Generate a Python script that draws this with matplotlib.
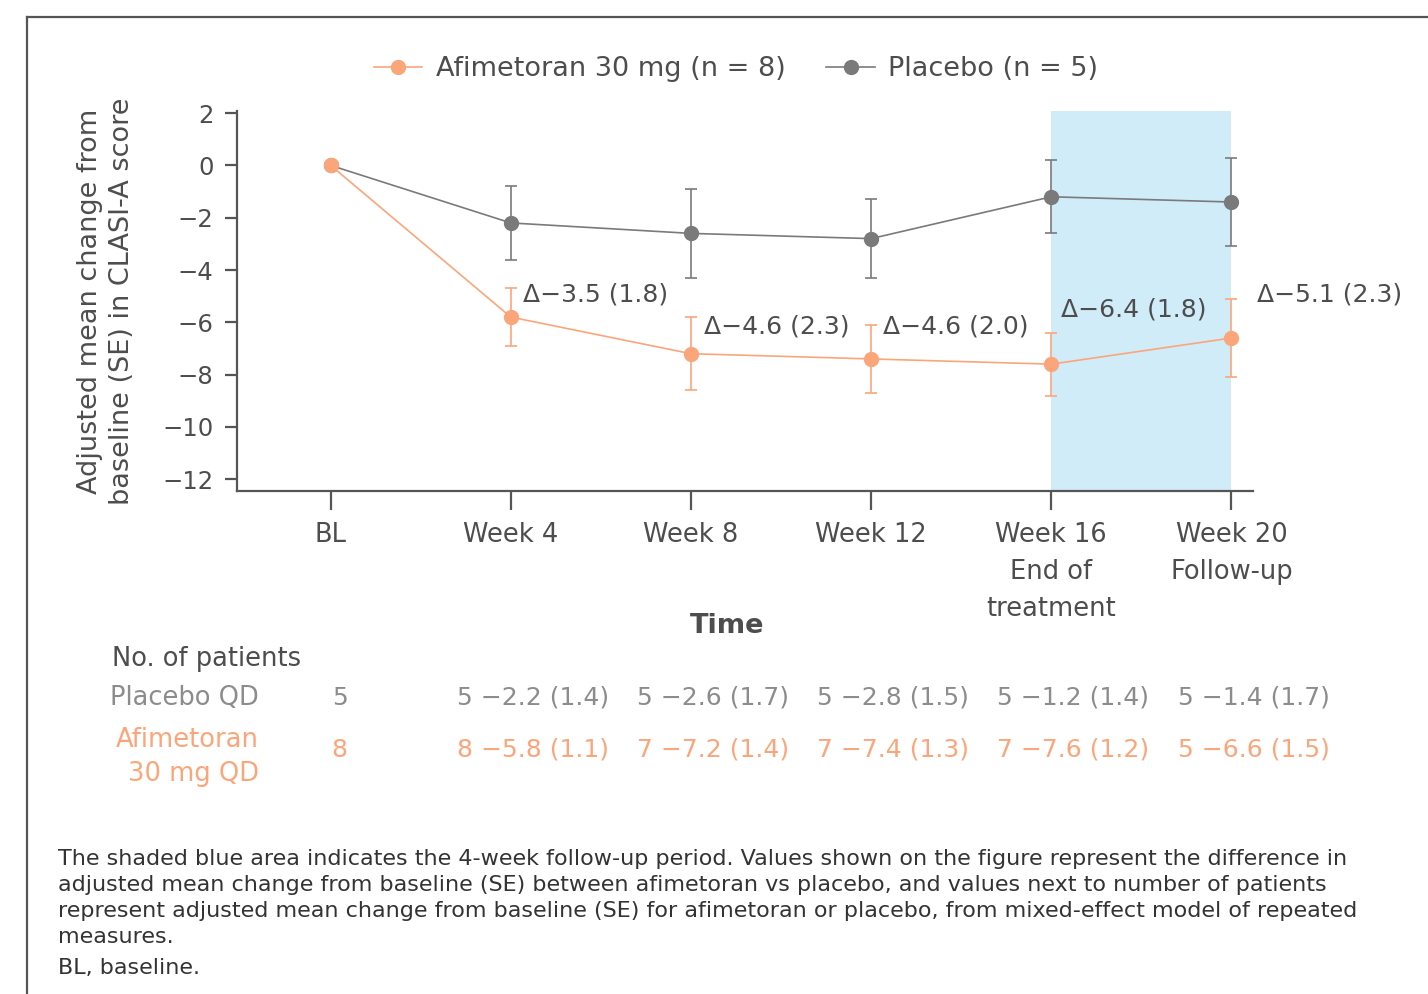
import matplotlib
matplotlib.use('Agg')
import matplotlib.pyplot as plt
import matplotlib.transforms as mtransforms
from matplotlib.lines import Line2D

# data
timepoints = ['BL', 'Week 4', 'Week 8', 'Week 12', 'Week 16\nEnd of\ntreatment', 'Week 20\nFollow-up']
afi_mean = [0, -5.8, -7.2, -7.4, -7.6, -6.6]
afi_se = [0, 1.1, 1.4, 1.3, 1.2, 1.5]
pbo_mean = [0, -2.2, -2.6, -2.8, -1.2, -1.4]
pbo_se = [0, 1.4, 1.7, 1.5, 1.4, 1.7]
afi_n = [8, 8, 7, 7, 7, 5]
pbo_n = [5, 5, 5, 5, 5, 5]
delta_labels = ['Δ−3.5 (1.8)', 'Δ−4.6 (2.3)', 'Δ−4.6 (2.0)', 'Δ−6.4 (1.8)', 'Δ−5.1 (2.3)']
delta_y = [-4.93, -6.16, -6.16, -5.5, -4.93]
delta_dx = [0.067, 0.072, 0.067, 0.055, 0.144]

ORANGE = '#FBA67A'
GREY = '#7a7a7a'
TXT = '#4d4d4d'
TBL_GREY = '#8c8c8c'
BLUE = '#D0ECF8'

plt.rcParams['font.family'] = ['DejaVu Sans']

fig = plt.figure(figsize=(14.28, 9.94), dpi=100)
ax = fig.add_axes([237/1428, 1-491/994, (1253-237)/1428, 380/994])

x = list(range(len(timepoints)))
ax.axvspan(4, 5, color=BLUE, zorder=0, lw=0)

ax.errorbar(x, pbo_mean, yerr=[0] + pbo_se[1:], color=GREY, marker='o', ms=10,
            lw=1.2, elinewidth=1.2, capsize=4.5, capthick=1.2, zorder=3)
ax.errorbar(x, afi_mean, yerr=[0] + afi_se[1:], color=ORANGE, marker='o', ms=10,
            lw=1.2, elinewidth=1.2, capsize=4.5, capthick=1.2, zorder=3)

for i, lab in enumerate(delta_labels):
    ax.text(i + 1 + delta_dx[i], delta_y[i], lab, fontsize=18, color=TXT,
            ha='left', va='center')

ax.set_xlim(-0.52, 5.12)
ax.set_ylim(-12.45, 2.08)
ax.set_yticks(range(-12, 3, 2))
ax.set_yticklabels([str(v).replace('-', '−') for v in range(-12, 3, 2)])
ax.set_xticks(x)
ax.set_xticklabels(timepoints, linespacing=1.55)
for s in ['top', 'right']:
    ax.spines[s].set_visible(False)
for s in ['left', 'bottom']:
    ax.spines[s].set_color('#555555')
    ax.spines[s].set_linewidth(1.6)
ax.tick_params(axis='y', length=9, width=1.6, color='#555555', labelsize=17.5,
               labelcolor=TXT, pad=8)
ax.tick_params(axis='x', length=14, width=1.6, color='#555555', labelsize=18.5,
               labelcolor=TXT, pad=8)
ax.set_ylabel('Adjusted mean change from\nbaseline (SE) in CLASI-A score',
              fontsize=19.5, color=TXT, linespacing=1.3)
ax.yaxis.set_label_coords(-0.1, 0.5)
fig.text(727/1428, 1-626/994, 'Time', fontsize=19.5, fontweight='bold', color=TXT,
         ha='center', va='center')

handles = [Line2D([], [], color=ORANGE, marker='o', ms=10, lw=1.2),
           Line2D([], [], color=GREY, marker='o', ms=10, lw=1.2)]
leg = fig.legend(handles, ['Afimetoran 30 mg (n = 8)', 'Placebo (n = 5)'],
                 loc='center', bbox_to_anchor=(736/1428, 1-69/994), ncol=2,
                 frameon=False, fontsize=19.5, handlelength=1.8, columnspacing=1.5,
                 handletextpad=0.5)
for t in leg.get_texts():
    t.set_color(TXT)

# patients table
tr = mtransforms.blended_transform_factory(ax.transData, fig.transFigure)
fig.text(112/1428, 1-659/994, 'No. of patients', fontsize=18.5, color=TXT, va='center')
fig.text(259/1428, 1-698/994, 'Placebo QD', fontsize=18.5, color=TBL_GREY, va='center', ha='right')
fig.text(259/1428, 1-757/994, 'Afimetoran\n30 mg QD', fontsize=18.5, color=ORANGE,
         va='center', ha='right', linespacing=1.4)
for i in x:
    if i == 0:
        pt = f'{pbo_n[i]}'
        at = f'{afi_n[i]}'
        xx = 0.05
    else:
        pt = f'{pbo_n[i]} −{abs(pbo_mean[i]):.1f} ({pbo_se[i]:.1f})'
        at = f'{afi_n[i]} −{abs(afi_mean[i]):.1f} ({afi_se[i]:.1f})'
        xx = i + 0.123
    ax.text(xx, 1-698/994, pt, transform=tr, fontsize=18, color=TBL_GREY, ha='center', va='center')
    ax.text(xx, 1-750/994, at, transform=tr, fontsize=18, color=ORANGE, ha='center', va='center')

# footnote
foot_lines = ['The shaded blue area indicates the 4-week follow-up period. Values shown on the figure represent the difference in',
              'adjusted mean change from baseline (SE) between afimetoran vs placebo, and values next to number of patients',
              'represent adjusted mean change from baseline (SE) for afimetoran or placebo, from mixed-effect model of repeated',
              'measures.',
              'BL, baseline.']
foot_y = [859, 885, 911, 937, 968]
for line, yy in zip(foot_lines, foot_y):
    fig.text(58/1428, 1-yy/994, line, fontsize=16, color='#333333', va='center')

# frame
fig.add_artist(Line2D([27/1428, 1], [1-17/994, 1-17/994], transform=fig.transFigure,
                      color='#555555', lw=1.6))
fig.add_artist(Line2D([27/1428, 27/1428], [0, 1-17/994], transform=fig.transFigure,
                      color='#555555', lw=1.6))

fig.savefig('out.png', dpi=100)
